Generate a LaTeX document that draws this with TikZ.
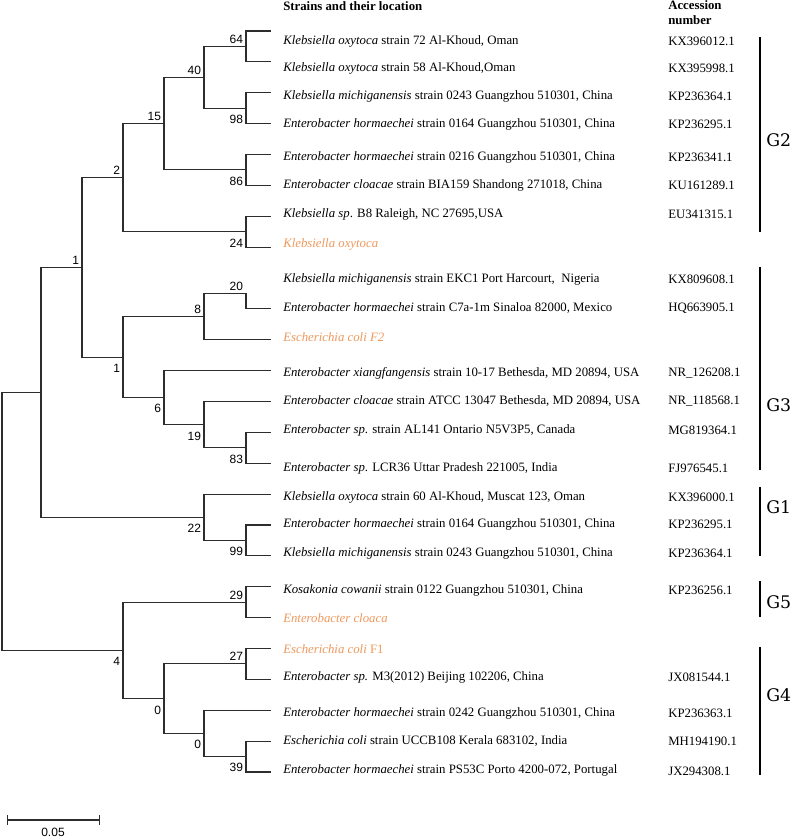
\documentclass[tikz,border=0pt]{standalone}
\usepackage{fontspec}
\setmainfont{Liberation Serif}
\setsansfont{Liberation Sans}
\newfontfamily\gfont{DejaVu Serif}
\usetikzlibrary{arrows.meta}
\definecolor{leafOrange}{RGB}{238,152,92}
\definecolor{branchGray}{RGB}{45,45,45}
\begin{document}
\begin{tikzpicture}[x=0.75pt, y=-0.75pt]

	% Styles for tree, labels and groups
	\tikzset{
		branch/.style={line width=0.8pt, branchGray},
		boot/.style={font=\sffamily\fontsize{9}{10}\selectfont, inner sep=2pt},
		bootUp/.style={boot, anchor=south east},
		bootDown/.style={boot, anchor=north east, yshift=-3pt},
		leafText/.style={anchor=west, inner sep=0pt, font=\fontsize{9.6}{11}\selectfont},
		accText/.style={leafText},
		newLeaf/.style={leafText, text=leafOrange},
		head/.style={anchor=west, inner sep=0pt, align=left, font=\bfseries\fontsize{9.6}{11.25}\selectfont},
		groupBar/.style={line width=2.2pt, black},
		groupName/.style={anchor=west, inner sep=0pt, font=\gfont\fontsize{13}{14}\selectfont}
	}
	\useasboundingbox (0,0) rectangle (794,837);

	% Leaf tips (equal spacing)
	\foreach \i in {1,...,25} {
		\coordinate (l\i) at (271, {31+30.875*(\i-1)});
	}

	% Internal nodes (x = depth, y = middle of the children)
	\coordinate (root) at (2,521.4);
	\coordinate (nA) at (41,392.3);
	\coordinate (n1a) at (82,267.4);
	\coordinate (n2) at (123,177.7);
	\coordinate (n15) at (164,123.6);
	\coordinate (n40) at (204,77.3);
	\coordinate (n64) at (246,46.4);
	\coordinate (n98) at (246,108.2);
	\coordinate (n86) at (246,169.9);
	\coordinate (n24) at (246,231.7);
	\coordinate (n1b) at (123,357.1);
	\coordinate (n8) at (204,316.6);
	\coordinate (n20) at (246,293.4);
	\coordinate (n6) at (164,397.6);
	\coordinate (n19) at (204,424.7);
	\coordinate (n83) at (246,447.8);
	\coordinate (n22) at (204,517.3);
	\coordinate (n99) at (246,540.4);
	\coordinate (n4) at (123,650.4);
	\coordinate (n29) at (246,602.2);
	\coordinate (n0a) at (164,698.7);
	\coordinate (n27) at (246,663.9);
	\coordinate (n0b) at (204,733.4);
	\coordinate (n39) at (246,756.6);

	% Branches
	\draw[branch] (root) |- (nA);
	\draw[branch] (root) |- (n4);
	\draw[branch] (nA) |- (n1a);
	\draw[branch] (nA) |- (n22);
	\draw[branch] (n1a) |- (n2);
	\draw[branch] (n1a) |- (n1b);
	\draw[branch] (n2) |- (n15);
	\draw[branch] (n2) |- (n24);
	\draw[branch] (n15) |- (n40);
	\draw[branch] (n15) |- (n86);
	\draw[branch] (n40) |- (n64);
	\draw[branch] (n40) |- (n98);
	\draw[branch] (n64) |- (l1);
	\draw[branch] (n64) |- (l2);
	\draw[branch] (n98) |- (l3);
	\draw[branch] (n98) |- (l4);
	\draw[branch] (n86) |- (l5);
	\draw[branch] (n86) |- (l6);
	\draw[branch] (n24) |- (l7);
	\draw[branch] (n24) |- (l8);
	\draw[branch] (n1b) |- (n8);
	\draw[branch] (n1b) |- (n6);
	\draw[branch] (n8) |- (n20);
	\draw[branch] (n8) |- (l11);
	\draw[branch] (n20) |- (l10);
	\draw[branch] (n6) |- (l12);
	\draw[branch] (n6) |- (n19);
	\draw[branch] (n19) |- (l13);
	\draw[branch] (n19) |- (n83);
	\draw[branch] (n83) |- (l14);
	\draw[branch] (n83) |- (l15);
	\draw[branch] (n22) |- (l16);
	\draw[branch] (n22) |- (n99);
	\draw[branch] (n99) |- (l17);
	\draw[branch] (n99) |- (l18);
	\draw[branch] (n4) |- (n29);
	\draw[branch] (n4) |- (n0a);
	\draw[branch] (n29) |- (l19);
	\draw[branch] (n29) |- (l20);
	\draw[branch] (n0a) |- (n27);
	\draw[branch] (n0a) |- (n0b);
	\draw[branch] (n27) |- (l21);
	\draw[branch] (n27) |- (l22);
	\draw[branch] (n0b) |- (l23);
	\draw[branch] (n0b) |- (n39);
	\draw[branch] (n39) |- (l24);
	\draw[branch] (n39) |- (l25);

	% Bootstrap values
	\node[bootUp] (b64) at (n64) {64};
	\node[bootDown] (b98) at (n98) {98};
	\node[bootDown] (b86) at (n86) {86};
	\node[bootDown] (b24) at (n24) {24};
	\node[bootUp] (b40) at (n40) {40};
	\node[bootUp] (b15) at (n15) {15};
	\node[bootUp] (b2) at (n2) {2};
	\node[bootUp] (b1a) at (n1a) {1};
	\node[bootUp] (b20) at (n20) {20};
	\node[bootUp] (b8) at (n8) {8};
	\node[bootDown] (b1b) at (n1b) {1};
	\node[bootDown] (b6) at (n6) {6};
	\node[bootDown] (b19) at (n19) {19};
	\node[bootDown] (b83) at (n83) {83};
	\node[bootDown] (b22) at (n22) {22};
	\node[bootDown] (b99) at (n99) {99};
	\node[bootUp] (b29) at (n29) {29};
	\node[bootDown] (b4) at (n4) {4};
	\node[bootUp] (b27) at (n27) {27};
	\node[bootDown] (b0a) at (n0a) {0};
	\node[bootDown] (b0b) at (n0b) {0};
	\node[bootDown] (b39) at (n39) {39};

	% Column headers
	\node[head] (hStrain) at (283,6) {Strains and their location};
	\node[head] (hAcc) at (668,13) {Accession\\number};

	% Strain names
	\node[leafText] (t1) at (283,41) {\textit{Klebsiella oxytoca} strain 72 Al-Khoud, Oman};
	\node[leafText] (t2) at (283,68) {\textit{Klebsiella oxytoca} strain 58 Al-Khoud,Oman};
	\node[leafText] (t3) at (283,96) {\textit{Klebsiella michiganensis} strain 0243 Guangzhou 510301, China};
	\node[leafText] (t4) at (283,124) {\textit{Enterobacter hormaechei} strain 0164 Guangzhou 510301, China};
	\node[leafText] (t5) at (283,157) {\textit{Enterobacter hormaechei} strain 0216 Guangzhou 510301, China};
	\node[leafText] (t6) at (283,185) {\textit{Enterobacter cloacae} strain BIA159 Shandong 271018, China};
	\node[leafText] (t7) at (283,214) {\textit{Klebsiella sp}. B8 Raleigh, NC 27695,USA};
	\node[newLeaf] (t8) at (283,244) {\textit{Klebsiella oxytoca}};
	\node[leafText] (t9) at (283,279) {\textit{Klebsiella michiganensis} strain EKC1 Port Harcourt,\ \ Nigeria};
	\node[leafText] (t10) at (283,308) {\textit{Enterobacter hormaechei} strain C7a-1m Sinaloa 82000, Mexico};
	\node[newLeaf] (t11) at (283,337) {\textit{Escherichia coli F2}};
	\node[leafText] (t12) at (283,373) {\textit{Enterobacter xiangfangensis} strain 10-17 Bethesda, MD 20894, USA};
	\node[leafText] (t13) at (283,401) {\textit{Enterobacter cloacae} strain ATCC 13047 Bethesda, MD 20894, USA};
	\node[leafText] (t14) at (283,430) {\textit{Enterobacter sp}. strain AL141 Ontario N5V3P5, Canada};
	\node[leafText] (t15) at (283,468) {\textit{Enterobacter sp}. LCR36 Uttar Pradesh 221005, India};
	\node[leafText] (t16) at (283,497) {\textit{Klebsiella oxytoca} strain 60 Al-Khoud, Muscat 123, Oman};
	\node[leafText] (t17) at (283,524) {\textit{Enterobacter hormaechei} strain 0164 Guangzhou 510301, China};
	\node[leafText] (t18) at (283,553) {\textit{Klebsiella michiganensis} strain 0243 Guangzhou 510301, China};
	\node[leafText] (t19) at (283,590) {\textit{Kosakonia cowanii} strain 0122 Guangzhou 510301, China};
	\node[newLeaf] (t20) at (283,618) {\textit{Enterobacter cloaca}};
	\node[newLeaf] (t21) at (283,649) {\textit{Escherichia coli} F1};
	\node[leafText] (t22) at (283,677) {\textit{Enterobacter sp.} M3(2012) Beijing 102206, China};
	\node[leafText] (t23) at (283,713) {\textit{Enterobacter hormaechei} strain 0242 Guangzhou 510301, China};
	\node[leafText] (t24) at (283,741) {\textit{Escherichia coli} strain UCCB108 Kerala 683102, India};
	\node[leafText] (t25) at (283,770) {\textit{Enterobacter hormaechei} strain PS53C Porto 4200-072, Portugal};

	% Accession numbers
	\node[accText] (a1) at (668,41) {KX396012.1};
	\node[accText] (a2) at (668,68) {KX395998.1};
	\node[accText] (a3) at (668,96) {KP236364.1};
	\node[accText] (a4) at (668,124) {KP236295.1};
	\node[accText] (a5) at (668,157) {KP236341.1};
	\node[accText] (a6) at (668,185) {KU161289.1};
	\node[accText] (a7) at (668,214) {EU341315.1};
	\node[accText] (a9) at (668,279) {KX809608.1};
	\node[accText] (a10) at (668,308) {HQ663905.1};
	\node[accText] (a12) at (668,373) {NR\_126208.1};
	\node[accText] (a13) at (668,401) {NR\_118568.1};
	\node[accText] (a14) at (668,430) {MG819364.1};
	\node[accText] (a15) at (668,468) {FJ976545.1};
	\node[accText] (a16) at (668,497) {KX396000.1};
	\node[accText] (a17) at (668,524) {KP236295.1};
	\node[accText] (a18) at (668,553) {KP236364.1};
	\node[accText] (a19) at (668,590) {KP236256.1};
	\node[accText] (a22) at (668,677) {JX081544.1};
	\node[accText] (a23) at (668,713) {KP236363.1};
	\node[accText] (a24) at (668,741) {MH194190.1};
	\node[accText] (a25) at (668,771) {JX294308.1};

	% Group bars and names
	\draw[groupBar] (760,37) -- (760,232);
	\node[groupName] (gTwo) at (766,140) {G2};
	\draw[groupBar] (760,267) -- (760,470);
	\node[groupName] (gThree) at (766,405) {G3};
	\draw[groupBar] (760,487) -- (760,556);
	\node[groupName] (gOne) at (766,507) {G1};
	\draw[groupBar] (760,581) -- (760,617);
	\node[groupName] (gFive) at (766,602) {G5};
	\draw[groupBar] (760,647) -- (760,775);
	\node[groupName] (gFour) at (766,695) {G4};

	% Scale bar
	\coordinate (sbL) at (7,820);
	\coordinate (sbR) at (100,820);
	\draw[branch, {Bar[width=7pt]}-{Bar[width=7pt]}] (sbL) -- (sbR);
	\node[boot, anchor=north] (sbText) at (53,825) {0.05};

\end{tikzpicture}
\end{document}
